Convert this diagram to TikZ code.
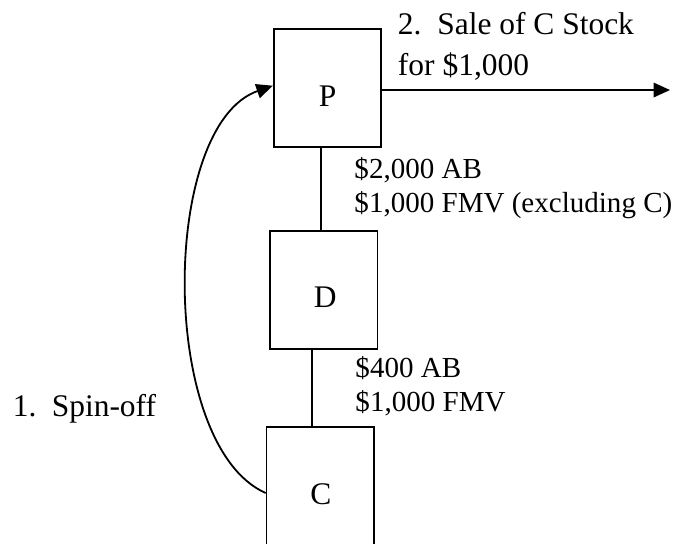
\documentclass[tikz,border=0pt]{standalone}
\usepackage{fontspec}
\setmainfont{Liberation Serif}
\usetikzlibrary{arrows.meta,calc}
\begin{document}
\begin{tikzpicture}[x=0.4132pt,y=-0.4132pt,
  ent/.style={draw,line width=0.75pt,minimum width=107.5*0.4132pt,minimum height=118*0.4132pt,inner sep=0pt},
  lbl/.style={anchor=base,inner sep=0pt,font=\fontsize{13}{15}\selectfont},
  txt/.style={anchor=base west,inner sep=0pt,font=\fontsize{12}{14}\selectfont},
  bigtxt/.style={anchor=base west,inner sep=0pt,font=\fontsize{13}{15}\selectfont},
  conn/.style={line width=0.75pt},
  arr/.style={line width=0.75pt,-{Triangle[length=6.8pt,width=6pt]}}]
\useasboundingbox (0,0) rectangle (676,543);
\clip (0,0) rectangle (676,543);
% boxes
\node[ent] (P) at (327.5,88) {};
\node[ent] (D) at (323.7,289.8) {};
\node[ent] (C) at (320.3,486) {};
\node[lbl] (Pt) at ($(P.center)+(0,18)$) {P};
\node[lbl] (Dt) at ($(D.center)+(1.5,18)$) {D};
\node[lbl] (Ct) at ($(C.center)+(0.5,18)$) {C};
% vertical links
\draw[conn] ([xshift=-6.8*0.4132pt]P.south) -- ([xshift=-3*0.4132pt]D.north);
\draw[conn] ([xshift=-11.8*0.4132pt]D.south) -- ([xshift=-8.3*0.4132pt]C.north);
% sale arrow
\coordinate (sale) at (670,90);
\draw[arr] (P.east |- sale) -- (sale);
% spin-off arc
\draw[arr] ([yshift=-7*0.4132pt]C.west) .. controls (158,445) and (160,125) .. ([yshift=2.3*0.4132pt]P.west);
% texts
\node[bigtxt] (t1) at (397.5,34.3) {2.\hspace{6.5pt}Sale of C Stock};
\node[bigtxt] (t2) at (397.5,75) {for \$1,000};
\node[txt] (t3) at (354,178) {\$2,000 AB};
\node[txt] (t4) at (354,212) {\$1,000 FMV (excluding C)};
\node[txt] (t5) at (355,377) {\$400 AB};
\node[txt] (t6) at (355,411.5) {\$1,000 FMV};
\node[bigtxt] (t7) at (12.5,416) {1.\hspace{6.3pt}Spin-off};
\end{tikzpicture}
\end{document}
